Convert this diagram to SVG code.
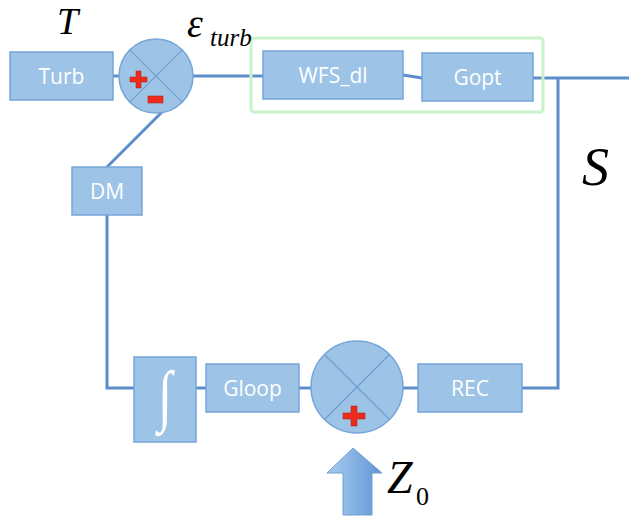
<svg xmlns="http://www.w3.org/2000/svg" width="629" height="517" viewBox="0 0 629 517">
<defs>
<style>
.box{fill:#9dc3e6;stroke:#77a5d8;stroke-width:1.5}
.lbl{font-family:"Open Sans","Liberation Sans",sans-serif;font-size:21px;fill:#fff;text-anchor:middle}
.wire{stroke:#5b8ecb;stroke-width:3;fill:none}
.xl{stroke:#6f9fd0;stroke-width:1.2}
.math{font-family:"Liberation Serif","Times New Roman",serif;font-style:italic;fill:#000}
.sign{fill:#ee2a1b;stroke:#b22a20;stroke-width:0.6}
</style>
<linearGradient id="ag" x1="0" y1="0" x2="1" y2="0">
<stop offset="0" stop-color="#a9cdf1"/>
<stop offset="1" stop-color="#5f95d4"/>
</linearGradient>
</defs>
<rect width="629" height="517" fill="#fff"/>

<g id="connectors">
<path class="wire" d="M113 76 H119"/>
<path class="wire" d="M193 76 L263 76"/>
<path class="wire" d="M403 75 L422 78"/>
<path class="wire" d="M533 78 H629"/>
<path class="wire" d="M558 78 V388 H522"/>
<path class="wire" d="M418 388 H403"/>
<path class="wire" d="M311 388 H299"/>
<path class="wire" d="M206 388 H196"/>
<path class="wire" d="M134 388 H107 V215"/>
<path class="wire" d="M107 167 L162 112"/>
</g>

<g id="group-box">
<rect x="251" y="38" width="292" height="74" rx="3" fill="none" stroke="#c8f3c8" stroke-width="3"/>
</g>

<g id="turb">
<rect class="box" x="10" y="52" width="103" height="48"/>
<text class="lbl" x="61.5" y="84">Turb</text>
</g>

<g id="sum-top">
<circle cx="156" cy="76" r="37" class="box"/>
<line class="xl" x1="129.8" y1="49.8" x2="182.2" y2="102.2"/>
<line class="xl" x1="182.2" y1="49.8" x2="129.8" y2="102.2"/>
<path class="sign" d="M136 71 h5 v6 h6 v5 h-6 v6 h-5 v-6 h-6 v-5 h6 z"/>
<rect class="sign" x="148" y="96" width="15" height="7"/>
</g>

<g id="wfs">
<rect class="box" x="263" y="51" width="140" height="48"/>
<text class="lbl" x="333" y="83">WFS_dl</text>
</g>

<g id="gopt">
<rect class="box" x="422" y="53" width="111" height="48"/>
<text class="lbl" x="477.5" y="85">Gopt</text>
</g>

<g id="dm">
<rect class="box" x="72" y="167" width="70" height="48"/>
<text class="lbl" x="107" y="199">DM</text>
</g>

<g id="integrator">
<rect class="box" x="134" y="357" width="62" height="85"/>
<text x="165" y="414" font-family="'Liberation Serif',serif" font-size="52" fill="#fff" text-anchor="middle" transform="translate(165 399) scale(1 1.3) translate(-165 -399)">∫</text>
</g>

<g id="gloop">
<rect class="box" x="206" y="364" width="93" height="48"/>
<text class="lbl" x="252.5" y="396">Gloop</text>
</g>

<g id="sum-bottom">
<circle cx="357" cy="387" r="46" class="box"/>
<line class="xl" x1="324.5" y1="354.5" x2="389.5" y2="419.5"/>
<line class="xl" x1="389.5" y1="354.5" x2="324.5" y2="419.5"/>
<path class="sign" d="M351 406 h6 v7 h8 v6 h-8 v7 h-6 v-7 h-8 v-6 h8 z"/>
</g>

<g id="rec">
<rect class="box" x="418" y="364" width="104" height="48"/>
<text class="lbl" x="470" y="396">REC</text>
</g>

<g id="z0-arrow">
<path d="M353 448 L382 473 L372 473 L372 515 L343 515 L343 473 L327 473 Z" fill="url(#ag)" stroke="#6f9fd0" stroke-width="1"/>
</g>

<g id="labels">
<text class="math" x="57" y="34" font-size="38">T</text>
<text class="math" x="187" y="37" font-size="40">ε</text>
<text class="math" x="210" y="46" font-size="25">turb</text>
<text class="math" x="582" y="185" font-size="54">S</text>
<text class="math" x="387" y="493" font-size="46">Z</text>
<text x="416" y="505" font-family="'Liberation Serif','Times New Roman',serif" font-size="26" fill="#000">0</text>
</g>
</svg>
